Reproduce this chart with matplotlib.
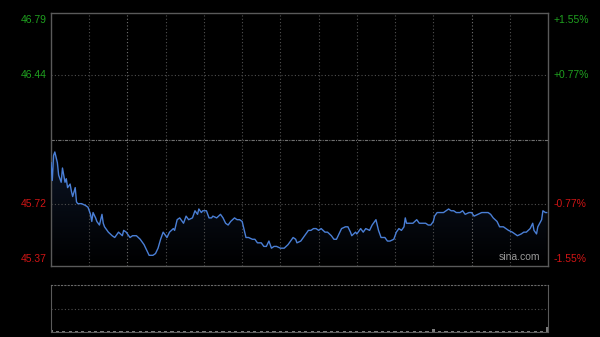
import matplotlib
matplotlib.use('Agg')
import matplotlib.pyplot as plt
import numpy as np
from matplotlib.colors import LinearSegmentedColormap

# intraday price, minutes from open (390 min session)
minutes = [0, 1, 2, 3, 5, 6, 8, 9, 11, 12, 13, 15, 16, 17, 19, 20, 21, 24, 27, 29,
           31, 32, 33, 35, 36, 38, 40, 41, 42, 45, 48, 50, 53, 56, 57, 59, 62, 64, 67, 70,
           73, 75, 77, 80, 82, 84, 86, 88, 91, 93, 96, 97, 99, 101, 104, 106, 108, 111, 113, 115,
           116, 118, 119, 122, 124, 126, 127, 130, 133, 135, 137, 139, 141, 144, 146, 148, 150, 151, 153, 155,
           158, 160, 162, 165, 167, 169, 171, 173, 175, 177, 180, 183, 186, 187, 190, 192, 193, 196, 198, 200,
           202, 204, 206, 208, 210, 212, 215, 217, 220, 222, 224, 226, 228, 231, 233, 235, 236, 239, 240, 243,
           245, 247, 250, 252, 254, 255, 257, 259, 262, 264, 266, 269, 271, 273, 275, 277, 278, 279, 282, 284,
           287, 289, 291, 294, 296, 298, 300, 301, 303, 305, 308, 310, 312, 314, 316, 318, 321, 323, 325, 328,
           330, 332, 335, 338, 340, 343, 345, 347, 350, 352, 355, 357, 359, 362, 364, 366, 369, 371, 373, 376,
           378, 379, 381, 382, 385, 386, 388, 389]
prices = [45.95, 45.85, 45.99, 46.01, 45.95, 45.88, 45.84, 45.92, 45.84, 45.86, 45.81, 45.83, 45.79, 45.76, 45.81, 45.73, 45.72, 45.72, 45.71, 45.70,
          45.66, 45.62, 45.67, 45.64, 45.62, 45.60, 45.66, 45.61, 45.59, 45.56, 45.54, 45.53, 45.56, 45.54, 45.57, 45.56, 45.53, 45.54, 45.54, 45.52,
          45.49, 45.46, 45.43, 45.43, 45.44, 45.47, 45.52, 45.56, 45.53, 45.56, 45.58, 45.57, 45.63, 45.64, 45.61, 45.65, 45.63, 45.64, 45.68, 45.66,
          45.69, 45.67, 45.68, 45.68, 45.64, 45.64, 45.65, 45.64, 45.66, 45.64, 45.61, 45.60, 45.62, 45.64, 45.63, 45.63, 45.62, 45.59, 45.53, 45.53,
          45.52, 45.52, 45.50, 45.50, 45.48, 45.48, 45.51, 45.47, 45.48, 45.48, 45.47, 45.47, 45.49, 45.50, 45.53, 45.52, 45.50, 45.51, 45.53, 45.55,
          45.57, 45.57, 45.58, 45.58, 45.57, 45.58, 45.56, 45.56, 45.54, 45.52, 45.52, 45.55, 45.58, 45.59, 45.59, 45.56, 45.54, 45.56, 45.55, 45.58,
          45.56, 45.58, 45.57, 45.60, 45.62, 45.63, 45.57, 45.53, 45.53, 45.51, 45.51, 45.52, 45.56, 45.58, 45.57, 45.59, 45.64, 45.61, 45.61, 45.61,
          45.63, 45.61, 45.61, 45.61, 45.60, 45.60, 45.62, 45.65, 45.67, 45.67, 45.67, 45.68, 45.69, 45.68, 45.68, 45.67, 45.67, 45.68, 45.66, 45.67,
          45.67, 45.65, 45.66, 45.67, 45.67, 45.67, 45.66, 45.64, 45.62, 45.59, 45.59, 45.58, 45.57, 45.56, 45.55, 45.54, 45.55, 45.56, 45.56, 45.58,
          45.61, 45.57, 45.55, 45.59, 45.63, 45.68, 45.67, 45.67]

prev_close = 46.08
left_ticks = [46.79, 46.44, 45.72, 45.37]
right_labels = ['+1.55%', '+0.77%', '-0.77%', '-1.55%']
tick_colors = ['#1fa01f', '#1fa01f', '#d01515', '#d01515']

# volume every 5 minutes (nearly flat, tiny bars)
vol_minutes = list(range(0, 391, 5))
volumes = [5, 3, 2, 2, 2, 2, 2, 2, 2, 2, 2, 2, 2, 2, 2, 2, 2, 2, 2, 2,
           2, 2, 2, 2, 2, 2, 2, 2, 2, 2, 2, 2, 2, 2, 2, 2, 2, 2, 2, 2,
           2, 2, 2, 2, 2, 2, 2, 2, 2, 2, 2, 2, 2, 2, 2, 2, 2, 2, 2, 2,
           6, 2, 2, 2, 2, 2, 2, 2, 2, 2, 2, 2, 2, 2, 3, 2, 2, 3, 10]

grid_c = '#505050'
border_c = '#5a5a5a'
line_c = '#4a7fd6'

fig = plt.figure(figsize=(6, 3.37), dpi=100, facecolor='black')
ax = fig.add_axes([51/600, 1-266/337, 497/600, 253/337])
ax.set_facecolor('black')
ax.set_xlim(0, 390)
ax.set_ylim(45.37, 46.79)

# dark gradient under the price line
poly = ax.fill_between(minutes, prices, 45.37, color='none', lw=0)
cmap = LinearSegmentedColormap.from_list('g', ['#000000', '#0c1526'])
grad = np.linspace(0, 1, 200).reshape(-1, 1)
im = ax.imshow(grad, extent=[0, 390, 45.37, 46.02], origin='lower', aspect='auto',
               cmap=cmap, zorder=1)
im.set_clip_path(poly.get_paths()[0], transform=ax.transData)
ax.set_xlim(0, 390)
ax.set_ylim(45.37, 46.79)

ax.plot(minutes, prices, color=line_c, lw=1.0, zorder=3)

for i in range(1, 13):
    c = '#707070' if i in (2, 11) else grid_c
    ax.axvline(i*30, color=c, lw=0.8, ls=(0, (1, 2)), zorder=2)
for v in [46.44, 45.72]:
    ax.axhline(v, color=grid_c, lw=0.8, ls=(0, (1, 2)), zorder=2)
ax.axhline(prev_close, color='#707070', lw=0.8, ls=(0, (3, 1, 1, 1)), zorder=2)

ax.set_xticks([])
ax.set_yticks([])
for s in ax.spines.values():
    s.set_color(border_c)
    s.set_linewidth(1)

for i, (v, lab, c) in enumerate(zip(left_ticks, right_labels, tick_colors)):
    dy = 0
    if i == 0:
        dy = -5
    if i == 3:
        dy = 5
    ax.annotate(f'{v:.2f}', (0, v), xycoords=('axes fraction', 'data'),
                xytext=(-3, dy), textcoords='offset points', ha='right', va='center',
                color=c, fontsize=7.5, family='Liberation Sans')
    ax.annotate(lab, (1, v), xycoords=('axes fraction', 'data'),
                xytext=(4, dy), textcoords='offset points', ha='left', va='center',
                color=c, fontsize=7.5, family='Liberation Sans')

ax.text(0.985, 0.015, 'sina.com', transform=ax.transAxes, ha='right', va='bottom',
        color='#9a9a9a', fontsize=7.5, family='Liberation Sans', zorder=4)

# volume panel
vax = fig.add_axes([51/600, 1-332/337, 497/600, 47/337])
vax.set_facecolor('black')
vax.set_xlim(0, 390)
vax.set_ylim(0, 100)
vax.bar(vol_minutes, volumes, width=2.5, color='#7a7a7a')
vax.axhline(50, color=grid_c, lw=0.8, ls=(0, (1, 2)))
vax.set_xticks([])
vax.set_yticks([])
for s in vax.spines.values():
    s.set_color(border_c)
vax.spines['top'].set_linestyle((0, (1, 2)))
vax.spines['top'].set_color('#6a6a6a')

fig.savefig('out.png', dpi=100, facecolor='black')
